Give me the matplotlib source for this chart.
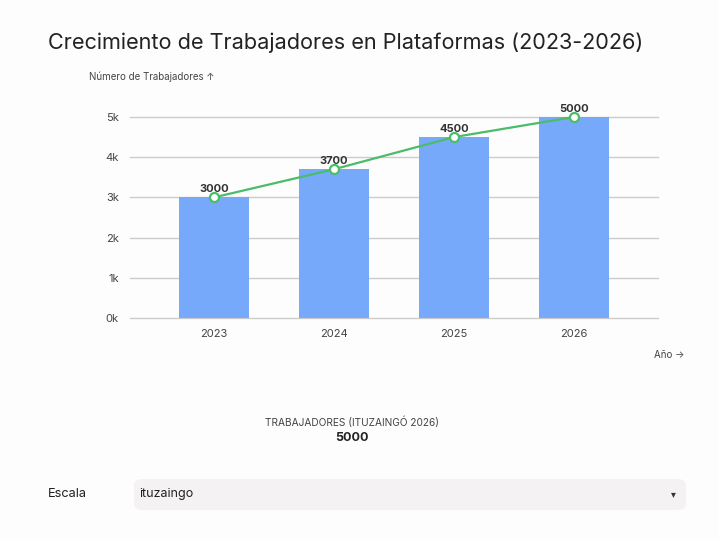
import matplotlib
matplotlib.use("Agg")
import matplotlib.pyplot as plt
from matplotlib.patches import FancyBboxPatch

years = ["2023", "2024", "2025", "2026"]
workers = [3000, 3700, 4500, 5000]
y_ticks = [0, 1000, 2000, 3000, 4000, 5000]
y_tick_labels = ["0k", "1k", "2k", "3k", "4k", "5k"]

plt.rcParams['font.family'] = ['Inter', 'DejaVu Sans']

W, H = 718, 539
fig = plt.figure(figsize=(W / 100, H / 100), dpi=100)
fig.patch.set_facecolor("#fdfdfd")

def fx(px):
    return px / W

def fy(py):
    return 1 - py / H

ax = fig.add_axes([fx(130), fy(318), fx(658) - fx(130), fy(117) - fy(318)])
ax.set_facecolor("#fdfdfd")
x = list(range(len(years)))
ax.bar(x, workers, width=0.59, color="#76a9fa", zorder=2)
ax.plot(x, workers, color="#4cbb6a", lw=1.6, zorder=3, marker="o", ms=6.5,
        mfc="white", mec="#4cbb6a", mew=1.6, clip_on=False)
for xi, v in zip(x, workers):
    ax.annotate(str(v), (xi, v), xytext=(0, 2.5), textcoords="offset points",
                ha="center", va="bottom", fontsize=8, fontweight="bold", color="#333333")
ax.set_xlim(-0.7, 3.7)
ax.set_ylim(0, 5000)
ax.set_yticks(y_ticks)
ax.set_yticklabels(y_tick_labels)
ax.set_xticks(x)
ax.set_xticklabels(years)
ax.grid(axis="y", color="#cccccc", lw=1, zorder=0)
for gl in ax.get_ygridlines():
    gl.set_clip_on(False)
for s in ax.spines.values():
    s.set_visible(False)
ax.tick_params(axis="both", length=0, labelsize=8, colors="#444444")
ax.tick_params(axis="y", pad=8)
ax.tick_params(axis="x", pad=8)

fig.text(fx(48), fy(43), "Crecimiento de Trabajadores en Plataformas (2023-2026)",
         fontsize=15.6, color="#222222", ha="left", va="center")
fig.text(fx(89), fy(77), "Número de Trabajadores ↑", fontsize=7, color="#444444",
         ha="left", va="center")
fig.text(fx(684), fy(355), "Año →", fontsize=7, color="#444444", ha="right", va="center")

fig.text(fx(352), fy(422), "TRABAJADORES (ITUZAINGÓ 2026)", fontsize=7.3, color="#444444",
         ha="center", va="center")
fig.text(fx(352), fy(438), "5000", fontsize=9, fontweight="bold", color="#222222",
         ha="center", va="center")

fig.text(fx(48), fy(494), "Escala", fontsize=9.2, color="#222222", ha="left", va="center")
box = FancyBboxPatch((fx(134), fy(510)), fx(686) - fx(134), fy(479) - fy(510),
                     boxstyle="round,pad=0,rounding_size=0.012",
                     transform=fig.transFigure, facecolor="#f4f2f2", edgecolor="none")
fig.patches.append(box)
fig.text(fx(139), fy(494), "ituzaingo", fontsize=9, color="#222222", ha="left", va="center")
fig.text(fx(673), fy(494), "▾", fontsize=7, color="#333333", ha="center", va="center")

fig.savefig("out.png", dpi=100, facecolor=fig.get_facecolor())
